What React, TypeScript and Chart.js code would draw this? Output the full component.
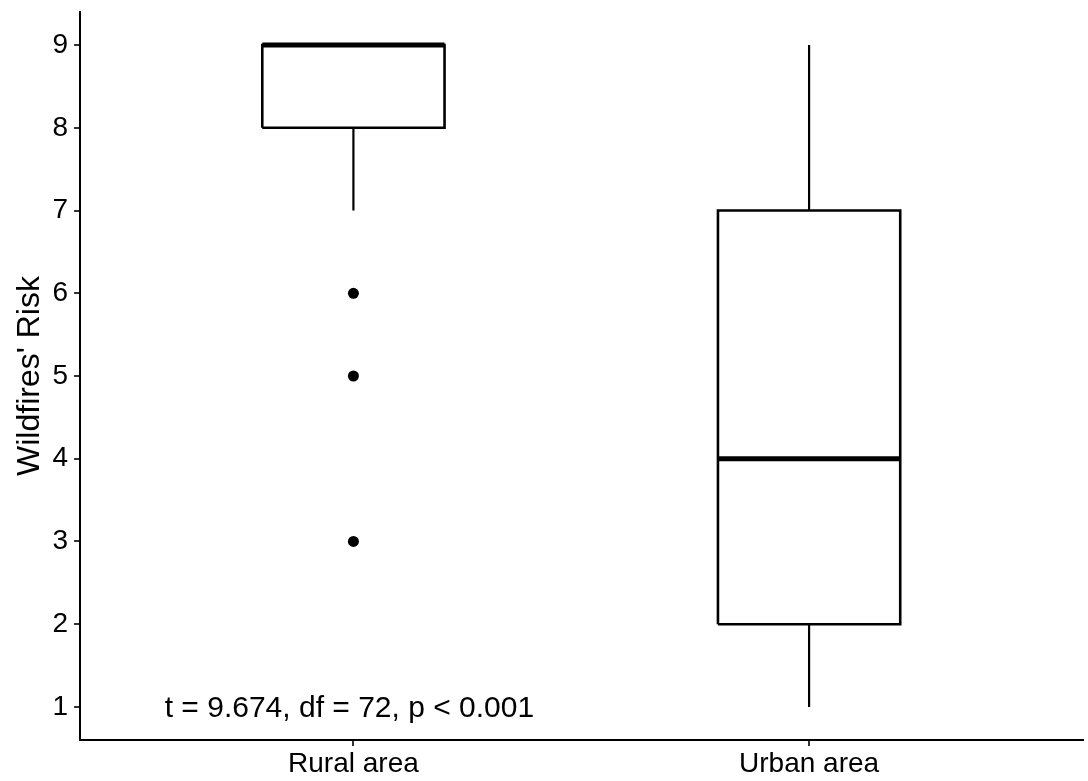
import React, { useEffect, useRef } from "react";
import { Chart, registerables } from "chart.js";

Chart.register(...registerables);

const categories = ["Rural area", "Urban area"];
const lowerWhisker = [7, 1];
const q1Values = [8, 2];
const medianValues = [9, 4];
const q3Values = [9, 7];
const upperWhisker = [9, 9];
const outlierValues = [[6, 5, 3], []];
const yTicks = [1, 2, 3, 4, 5, 6, 7, 8, 9];
const annotationText = "t = 9.674, df = 72, p < 0.001";
const yTitle = "Wildfires' Risk";

const BOX_HALF = 0.2;
const FONT = "'Liberation Sans', Arial, sans-serif";

export default function App() {
  const ref = useRef<HTMLCanvasElement | null>(null);

  useEffect(() => {
    if (!ref.current) return;
    const datasets: any[] = [];
    categories.forEach((_, i) => {
      const x = i + 1;
      datasets.push({
        type: "line",
        data: [{ x, y: lowerWhisker[i] }, { x, y: q1Values[i] }],
        borderColor: "#000",
        borderWidth: 2.2,
        pointRadius: 0,
        showLine: true,
      });
      datasets.push({
        type: "line",
        data: [{ x, y: q3Values[i] }, { x, y: upperWhisker[i] }],
        borderColor: "#000",
        borderWidth: 2.2,
        pointRadius: 0,
        showLine: true,
      });
      datasets.push({
        type: "line",
        data: [
          { x: x - BOX_HALF, y: q1Values[i] },
          { x: x + BOX_HALF, y: q1Values[i] },
          { x: x + BOX_HALF, y: q3Values[i] },
          { x: x - BOX_HALF, y: q3Values[i] },
          { x: x - BOX_HALF, y: q1Values[i] },
        ],
        borderColor: "#000",
        borderWidth: 2.6,
        borderJoinStyle: "miter",
        pointRadius: 0,
        showLine: true,
        fill: false,
      });
      datasets.push({
        type: "line",
        data: [
          { x: x - BOX_HALF, y: medianValues[i] },
          { x: x + BOX_HALF, y: medianValues[i] },
        ],
        borderColor: "#000",
        borderWidth: 5,
        pointRadius: 0,
        showLine: true,
      });
      datasets.push({
        type: "scatter",
        data: outlierValues[i].map((y) => ({ x, y })),
        backgroundColor: "#000",
        borderColor: "#000",
        pointRadius: 5.5,
        borderWidth: 0,
      });
    });

    const annotation = {
      id: "annotation",
      afterDatasetsDraw(chart: any) {
        const { ctx, scales } = chart;
        ctx.save();
        ctx.fillStyle = "#000";
        ctx.font = `30px ${FONT}`;
        ctx.textAlign = "center";
        ctx.textBaseline = "middle";
        ctx.fillText(annotationText, scales.x.getPixelForValue(1) - 4, scales.y.getPixelForValue(1) + 2);
        ctx.restore();
      },
    };

    const chart = new Chart(ref.current, {
      type: "scatter",
      data: { datasets },
      plugins: [annotation],
      options: {
        animation: false,
        responsive: false,
        maintainAspectRatio: false,
        layout: { padding: { top: 12, right: 3, left: 0, bottom: 0 } },
        plugins: { legend: { display: false }, tooltip: { enabled: false } },
        scales: {
          x: {
            type: "linear",
            min: 0.4,
            max: 2.6,
            afterBuildTicks: (s: any) => {
              s.ticks = categories.map((_, i) => ({ value: i + 1 }));
            },
            afterFit: (s: any) => {
              s.height = 41;
              s.paddingLeft = 0;
              s.paddingRight = 0;
            },
            ticks: {
              callback: (v: any) => categories[Math.round(v) - 1] ?? "",
              color: "#000",
              font: { family: FONT, size: 28 },
              padding: 1,
              maxRotation: 0,
              autoSkip: false,
            },
            grid: {
              display: true,
              drawOnChartArea: false,
              drawTicks: true,
              tickLength: 6,
              color: "#333",
              lineWidth: 2,
            },
            border: { display: true, color: "#000", width: 2 },
          },
          y: {
            type: "linear",
            min: 0.6,
            max: 9.4,
            afterBuildTicks: (s: any) => {
              s.ticks = yTicks.map((v) => ({ value: v }));
            },
            afterFit: (s: any) => {
              s.width = 80;
              s.paddingTop = 0;
              s.paddingBottom = 0;
            },
            ticks: {
              callback: (v: any) => String(v),
              color: "#000",
              font: { family: FONT, size: 28 },
              padding: 6,
              autoSkip: false,
            },
            title: {
              display: true,
              text: yTitle,
              color: "#000",
              font: { family: FONT, size: 32 },
              padding: { top: 11, bottom: 0 },
            },
            grid: {
              display: true,
              drawOnChartArea: false,
              drawTicks: true,
              tickLength: 6,
              color: "#333",
              lineWidth: 2,
            },
            border: { display: true, color: "#000", width: 2 },
          },
        },
      },
    });
    return () => chart.destroy();
  }, []);

  return (
    <div style={{ position: "fixed", left: 0, top: 0, width: 1088, height: 781, background: "#fff" }}>
      <canvas ref={ref} width={1088} height={781} style={{ width: 1088, height: 781 }} />
    </div>
  );
}
